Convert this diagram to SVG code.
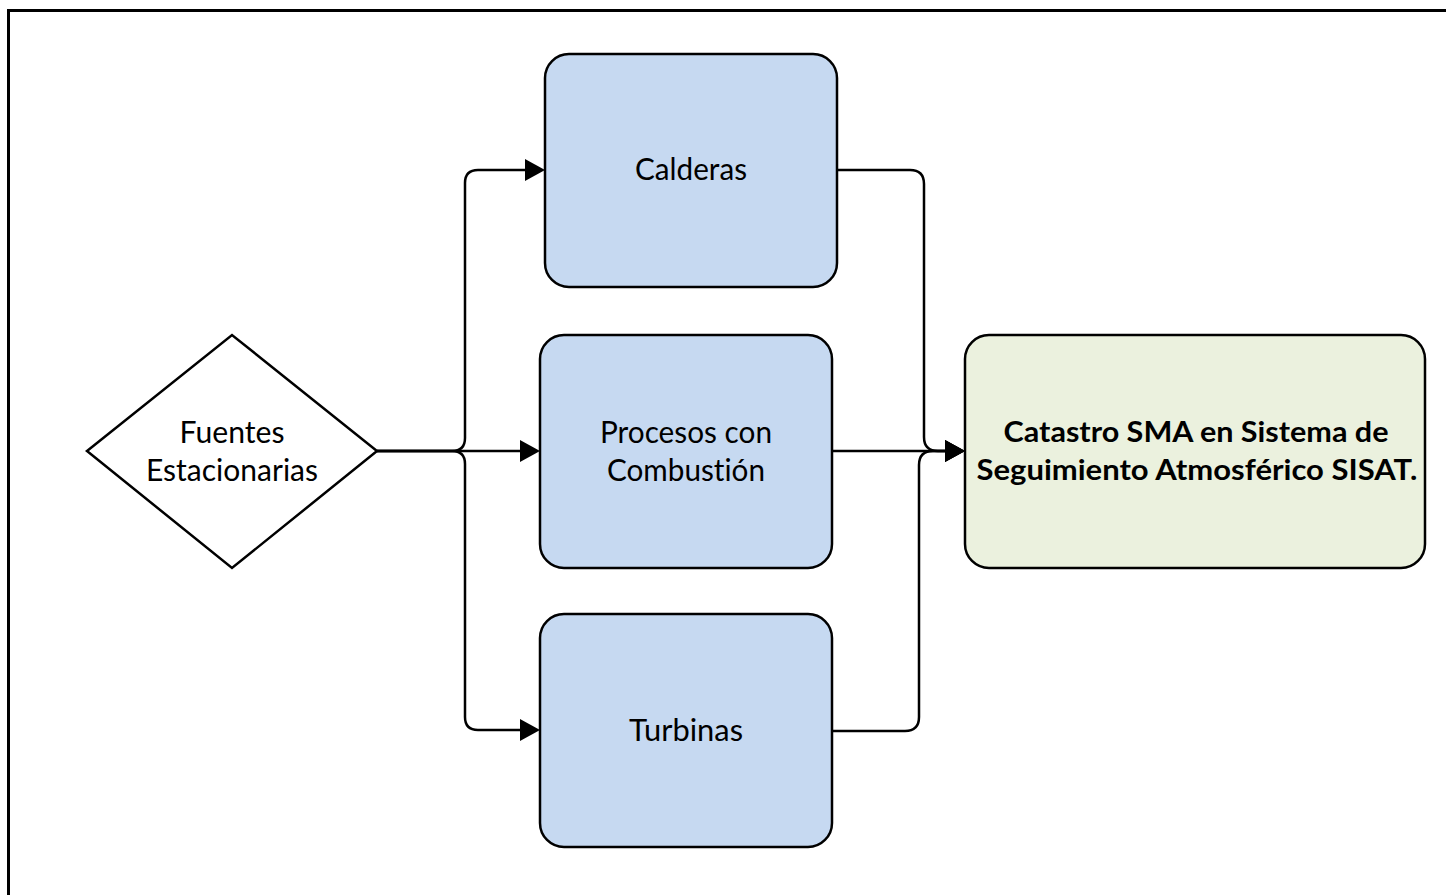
<svg xmlns="http://www.w3.org/2000/svg" width="1446" height="895" viewBox="0 0 1446 895">
<defs>
<style>
.frame{fill:none;stroke:#000;stroke-width:3}
.blue{fill:#C6D9F1;stroke:#000;stroke-width:2.5}
.green{fill:#EBF1DE;stroke:#000;stroke-width:2.5}
.dia{fill:#fff;stroke:#000;stroke-width:2.5}
.lbl{font-family:Lato,"Open Sans","Liberation Sans",sans-serif;font-size:31px;fill:#000;text-anchor:middle;font-variant-ligatures:none}
.bold{font-weight:bold;font-size:29px}
.conn{fill:none;stroke:#000;stroke-width:2.5}
</style>
<marker id="arr" markerUnits="userSpaceOnUse" markerWidth="20" markerHeight="22" refX="0" refY="11" orient="auto">
<path d="M0,0 L20,11 L0,22 z" fill="#000"/>
</marker>
</defs>
<rect width="1446" height="895" fill="#fff"/>
<rect class="frame" x="8.5" y="10.5" width="1600" height="1000"/>
<g id="connectors">
<path class="conn" d="M377,451 H452 Q465,451 465,438 V183 Q465,170 478,170 H525" marker-end="url(#arr)"/>
<path class="conn" d="M377,451 H520" marker-end="url(#arr)"/>
<path class="conn" d="M377,451 H452 Q465,451 465,464 V717 Q465,730 478,730 H520" marker-end="url(#arr)"/>
<path class="conn" d="M837,170 H910 Q924,170 924,184 V437 Q924,451 938,451 H945" marker-end="url(#arr)"/>
<path class="conn" d="M833,451 H945" marker-end="url(#arr)"/>
<path class="conn" d="M832,731 H905 Q919,731 919,717 V465 Q919,451 933,451 H945" marker-end="url(#arr)"/>
</g>
<g id="fuentes">
<polygon class="dia" points="87,451 232,335 377,451 232,568"/>
<text class="lbl" x="232" y="443" textLength="105" lengthAdjust="spacingAndGlyphs">Fuentes</text>
<text class="lbl" x="232" y="481" textLength="172" lengthAdjust="spacingAndGlyphs">Estacionarias</text>
</g>
<g id="calderas">
<rect class="blue" x="545" y="54" width="292" height="233" rx="24"/>
<text class="lbl" x="691" y="180" textLength="112" lengthAdjust="spacingAndGlyphs">Calderas</text>
</g>
<g id="procesos">
<rect class="blue" x="540" y="335" width="292" height="233" rx="24"/>
<text class="lbl" x="686" y="443" textLength="172" lengthAdjust="spacingAndGlyphs">Procesos con</text>
<text class="lbl" x="686" y="481" textLength="158" lengthAdjust="spacingAndGlyphs">Combustión</text>
</g>
<g id="turbinas">
<rect class="blue" x="540" y="614" width="292" height="233" rx="24"/>
<text class="lbl" x="686" y="741" textLength="114" lengthAdjust="spacingAndGlyphs">Turbinas</text>
</g>
<g id="catastro">
<rect class="green" x="965" y="335" width="460" height="233" rx="24"/>
<text class="lbl bold" x="1196" y="442" textLength="385" lengthAdjust="spacingAndGlyphs">Catastro SMA en Sistema de</text>
<text class="lbl bold" x="1197" y="480" textLength="441" lengthAdjust="spacingAndGlyphs">Seguimiento Atmosférico SISAT.</text>
</g>
</svg>
